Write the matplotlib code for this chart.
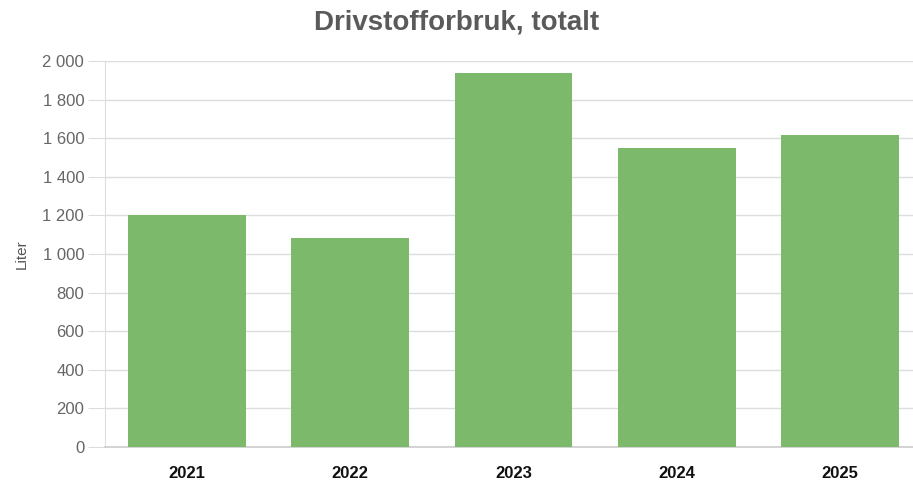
import matplotlib.pyplot as plt
from matplotlib.ticker import FuncFormatter

years = ['2021', '2022', '2023', '2024', '2025']
liter = [1200, 1085, 1940, 1550, 1615]

plt.rcParams['font.family'] = ['Liberation Sans', 'DejaVu Sans']

W, H = 913, 486
fig = plt.figure(figsize=(W / 100, H / 100), dpi=100)
ax = fig.add_axes([105 / W, 39 / H, 817 / W, 386 / H])

ax.bar(years, liter, width=0.72, color='#7cb96b', zorder=3)

ax.set_ylim(0, 2000)
ax.set_xlim(-0.5, len(years) - 0.5)
ax.set_yticks(range(0, 2001, 200))
ax.yaxis.set_major_formatter(FuncFormatter(lambda v, p: f"{int(v):,}".replace(',', ' ')))
ax.grid(axis='y', color='#dddddd', linewidth=1, zorder=0)

for s in ['top', 'right']:
    ax.spines[s].set_visible(False)
ax.spines['left'].set_color('#dddddd')
ax.spines['bottom'].set_color('#cccccc')
ax.spines['bottom'].set_linewidth(1.2)

ax.tick_params(axis='y', length=12, color='#dddddd', labelsize=12, labelcolor='#666666', pad=3)
ax.tick_params(axis='x', length=0, labelsize=12, pad=14)
for lbl in ax.get_xticklabels():
    lbl.set_fontweight('bold')
    lbl.set_color('#111111')

ax.set_ylabel('Liter', fontsize=11, color='#555555', labelpad=10)
fig.text(457 / W, 1 - 23 / H, 'Drivstofforbruk, totalt', ha='center', va='center',
         fontsize=20, fontweight='bold', color='#5a5a5a')

fig.savefig('out.png', dpi=100)
